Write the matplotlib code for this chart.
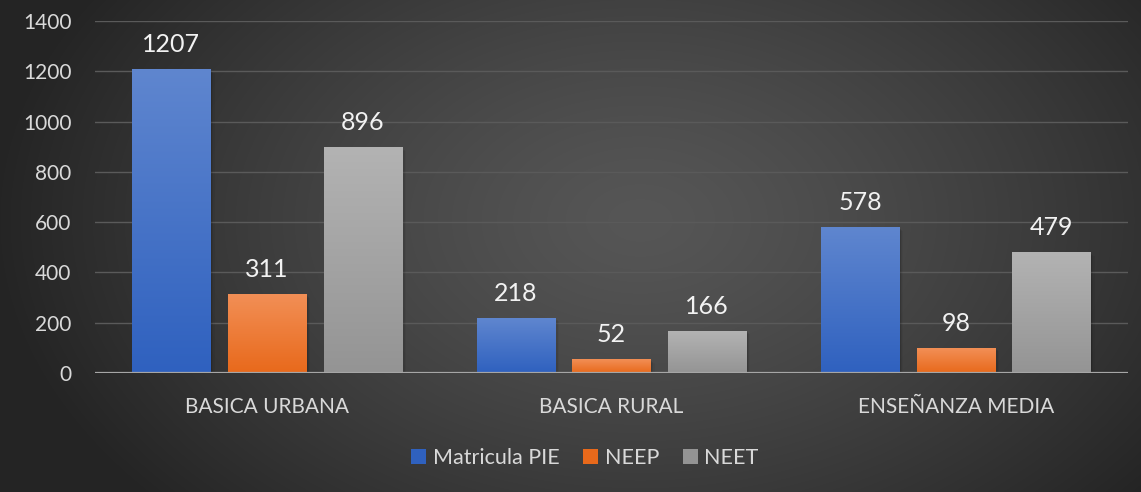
import numpy as np
import matplotlib
matplotlib.use("Agg")
import matplotlib.pyplot as plt
from matplotlib.colors import LinearSegmentedColormap
from matplotlib.patches import Rectangle, Patch

categories = ["BASICA URBANA", "BASICA RURAL", "ENSEÑANZA MEDIA"]
series_names = ["Matricula PIE", "NEEP", "NEET"]
matricula_pie = [1207, 218, 578]
neep = [311, 52, 98]
neet = [896, 166, 479]
yticks = [0, 200, 400, 600, 800, 1000, 1200, 1400]

series_values = [matricula_pie, neep, neet]
grad_colors = [("#5f86cf", "#2f61bf"), ("#f28f56", "#e8691b"), ("#b3b3b3", "#949494")]

plt.rcParams['font.family'] = ['Lato', 'DejaVu Sans']

W, H = 1141, 492
fig = plt.figure(figsize=(W / 100, H / 100), dpi=100)

# radial background gradient
bg = fig.add_axes([0, 0, 1, 1], zorder=-10)
yy, xx = np.mgrid[0:H, 0:W]
cx, cy = 640, 220
r = np.sqrt(((xx - cx) / 650.0) ** 2 + ((yy - cy) / 430.0) ** 2)
r = np.clip(r, 0, 1)
inner, outer = 0x56 / 255, 0x24 / 255
val = inner + (outer - inner) * r ** 1.3
img = np.dstack([val, val, val])
bg.imshow(img, aspect='auto', extent=[0, 1, 0, 1], origin='upper')
bg.set_axis_off()

ax = fig.add_axes([95 / W, 1 - 373 / H, (1128 - 95) / W, (373 - 21) / H])
ax.set_facecolor('none')
for s in ax.spines.values():
    s.set_visible(False)

x = np.arange(len(categories))
width = 0.227
offset = 0.278

for i, (name, vals) in enumerate(zip(series_names, series_values)):
    top_c, bot_c = grad_colors[i]
    cmap = LinearSegmentedColormap.from_list("g%d" % i, [bot_c, top_c])
    bars = ax.bar(x + (i - 1) * offset, vals, width, color='none', label=name, zorder=3)
    for b, v in zip(bars, vals):
        x0, y0 = b.get_x(), b.get_y()
        w, h = b.get_width(), b.get_height()
        # soft shadow
        for k, a in enumerate([0.10, 0.07, 0.04]):
            ax.add_patch(Rectangle((x0 + 0.004 * (k + 1), y0), w, h - 4 * (k + 1),
                                   facecolor='black', edgecolor='none', alpha=a, zorder=2))
        grad = np.linspace(0, 1, 256).reshape(-1, 1)
        ax.imshow(grad, cmap=cmap, origin='lower', aspect='auto',
                  extent=[x0, x0 + w, y0, y0 + h], zorder=3)
        ax.text(x0 + w / 2, v + 70, str(v), ha='center', va='baseline',
                fontsize=18, color='#f2f2f2', zorder=5)

ax.set_xlim(-0.5, 2.5)
ax.set_ylim(0, 1400)
ax.set_yticks(yticks)
ax.set_yticklabels([str(t) for t in yticks], fontsize=15, color='#d9d9d9')
ax.set_xticks(x)
ax.set_xticklabels(categories, fontsize=15, color='#d9d9d9')
ax.tick_params(axis='both', length=0)
ax.tick_params(axis='y', pad=17)
ax.tick_params(axis='x', pad=17)
ax.grid(axis='y', color='#5a5a5a', linewidth=1.0, zorder=0)
ax.set_axisbelow(True)
ax.axhline(0, color='#a6a6a6', linewidth=1.6, zorder=4)

handles = [Patch(facecolor=c[1], edgecolor='none') for c in grad_colors]
fig.legend(handles, series_names, loc='center', bbox_to_anchor=(585 / W, 1 - 458 / H),
           ncol=3, frameon=False, fontsize=15.5, labelcolor='#d9d9d9',
           handlelength=0.7, handleheight=0.7, handletextpad=0.3, columnspacing=1.1)

fig.savefig('out.png', dpi=100)
